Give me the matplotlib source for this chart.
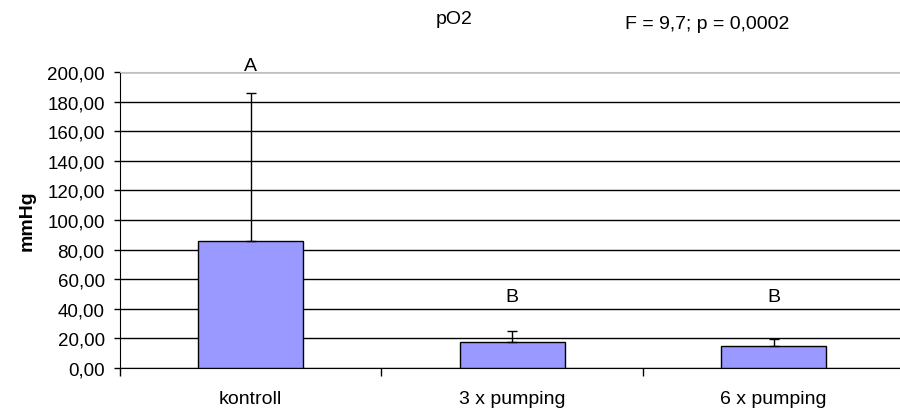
import matplotlib.pyplot as plt
import numpy as np

plt.rcParams['font.family'] = ['Liberation Sans', 'DejaVu Sans']

categories = ['kontroll', '3 x pumping', '6 x pumping']
means = [85.6, 17.4, 14.7]
err_up = [100.0, 7.4, 5.0]
letters = ['A', 'B', 'B']
letter_y = [201.6, 45.5, 45.5]

fig = plt.figure(figsize=(9.0, 4.14), dpi=100)
ax = fig.add_axes([0.1333, 0.1087, 0.8667, 0.715])

x = np.arange(len(categories))
ax.bar(x, means, width=0.4, color='#9999FF', edgecolor='black', linewidth=1, zorder=3)
ax.errorbar(x, means, yerr=[np.zeros(len(x)), err_up], fmt='none',
            ecolor='black', elinewidth=1, capsize=3.6, capthick=1, zorder=4)

for xi, lab, ly in zip(x, letters, letter_y):
    ax.text(xi, ly, lab, ha='center', va='baseline', fontsize=14, clip_on=False)

ax.set_ylim(0, 200)
ax.set_xlim(-0.5, 2.483)
yt = np.arange(0, 201, 20)
ax.set_yticks(yt)
ax.set_yticklabels([f'{v:.2f}'.replace('.', ',') for v in yt], fontsize=13.5)
ax.set_xticks(x)
ax.set_xticklabels(categories, fontsize=14)
ax.tick_params(axis='x', which='major', length=0, pad=16)
ax.set_xticks([-0.5, 0.5, 1.5], minor=True)
ax.tick_params(axis='x', which='minor', length=6, width=1, direction='out')
ax.tick_params(axis='y', length=4.5, width=1, direction='out', pad=6.5)

ax.grid(axis='y', color='black', linewidth=1, zorder=0)
ax.spines['right'].set_visible(False)
ax.spines['top'].set_color('#c0c0c0')
ax.set_ylabel('mmHg', fontsize=14, fontweight='bold', labelpad=8)

fig.text(454 / 900, 1 - 24 / 414, 'pO2', ha='center', va='baseline', fontsize=14)
fig.text(707 / 900, 1 - 29 / 414, 'F = 9,7; p = 0,0002', ha='center', va='baseline', fontsize=14)

fig.savefig('out.png', dpi=100)
